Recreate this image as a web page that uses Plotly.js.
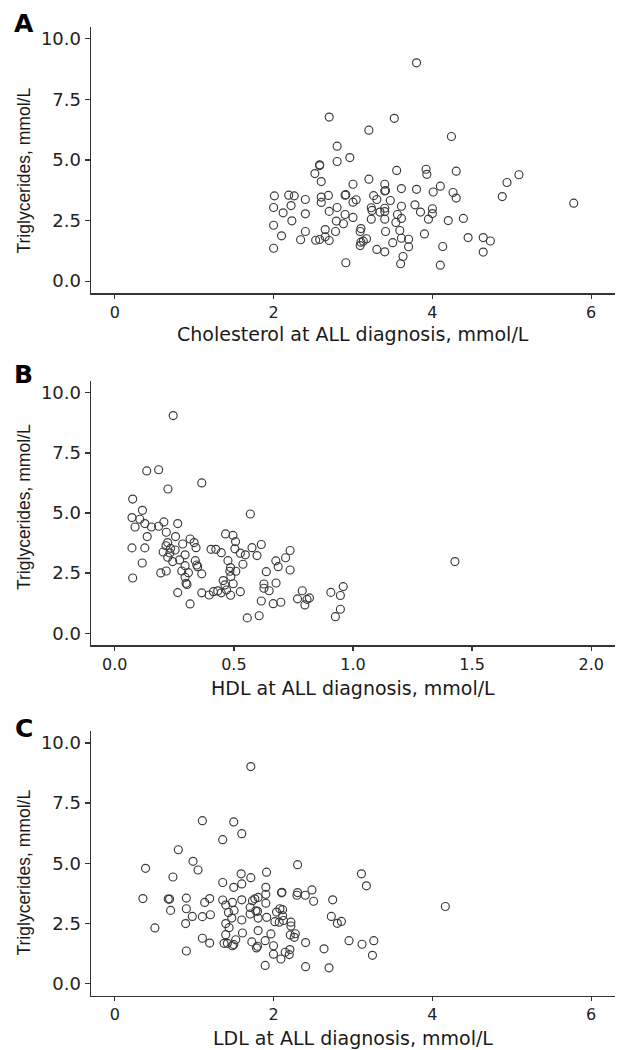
<!DOCTYPE html>
<html>
<head>
<meta charset="utf-8">
<script src="https://cdn.plot.ly/plotly-3.0.1.min.js"></script>
<style>
  html, body { margin: 0; padding: 0; background: #ffffff; }
  #chart { width: 619px; height: 1050px; }
</style>
</head>
<body>
<div id="chart"></div>
<script>
// ---------- Data ----------
// Panel A: Cholesterol at ALL diagnosis vs Triglycerides
const cholA = [2.01,2.19,2.26,2.00,2.12,2.22,2.00,2.23,2.10,2.00,
  2.34,2.40,2.40,2.40,2.52,2.58,2.58,2.60,2.60,2.60,2.69,2.70,2.70,2.65,2.53,2.58,2.65,2.70,
  2.80,2.80,2.80,2.79,2.78,2.88,2.90,2.91,2.90,2.91,2.96,3.00,3.00,3.04,3.00,3.10,3.09,3.10,
  3.09,3.13,3.17,3.20,3.20,3.23,3.24,3.23,3.26,3.30,3.30,3.40,3.40,3.41,3.40,3.40,3.40,3.34,
  3.41,3.40,3.47,3.50,3.52,3.55,3.56,3.54,3.59,3.61,3.61,3.61,3.61,3.70,3.70,3.63,3.60,3.80,
  3.80,3.78,3.85,3.90,3.92,3.93,4.01,4.10,4.00,4.00,3.95,4.13,4.10,4.20,4.24,4.26,4.30,4.30,
  4.39,4.45,4.64,4.73,4.64,4.88,4.94,5.09,5.78];
const tgA = [3.52,3.55,3.52,3.04,2.82,3.12,2.31,2.49,1.87,1.36,
  1.71,3.37,2.78,2.05,4.44,4.77,4.80,4.11,3.47,3.25,3.54,6.77,2.88,2.13,1.69,1.72,1.83,1.68,
  5.57,4.94,3.04,2.48,2.05,2.37,3.55,3.57,2.75,0.76,5.10,4.00,3.26,3.36,2.63,2.17,2.05,1.61,
  1.47,1.65,1.75,6.23,4.21,3.03,2.92,2.56,3.53,3.37,1.31,4.00,3.72,3.74,3.01,2.87,2.56,2.85,
  2.05,1.21,3.33,1.59,6.72,4.57,2.75,2.42,2.09,3.82,3.09,2.59,1.77,1.73,1.42,1.02,0.72,9.01,
  3.79,3.15,2.85,1.95,4.62,4.41,3.68,3.92,2.99,2.79,2.56,1.43,0.66,2.50,5.97,3.66,4.54,3.43,
  2.59,1.80,1.80,1.66,1.20,3.49,4.07,4.39,3.22];

// Panel B: HDL at ALL diagnosis vs Triglycerides
const hdlB = [0.245,0.134,0.184,0.223,0.365,0.075,0.116,0.072,0.105,0.085,0.126,0.154,0.184,0.206,
  0.264,0.216,0.136,0.072,0.126,0.115,0.075,0.255,0.222,0.215,0.234,0.253,0.203,0.231,0.222,0.243,
  0.193,0.216,0.264,0.285,0.295,0.316,0.333,0.341,0.272,0.295,0.281,0.309,0.295,0.299,0.303,0.316,
  0.338,0.344,0.348,0.365,0.365,0.404,0.424,0.447,0.396,0.414,0.432,0.447,0.455,0.462,0.469,0.465,
  0.496,0.507,0.504,0.475,0.486,0.483,0.508,0.487,0.497,0.486,0.527,0.548,0.538,0.527,0.556,
  0.569,0.576,0.615,0.597,0.606,0.636,0.626,0.626,0.648,0.615,0.665,0.697,0.676,0.686,0.677,
  0.717,0.736,0.736,0.787,0.767,0.798,0.807,0.817,0.907,0.947,0.959,0.947,0.926,1.428];
const tgB = [9.05,6.75,6.80,6.00,6.25,5.58,5.11,4.81,4.74,4.42,4.56,4.42,4.45,4.63,
  4.56,4.20,4.02,3.55,3.55,2.92,2.30,4.02,3.77,3.64,3.53,3.46,3.38,3.34,3.16,2.98,
  2.51,2.59,1.69,3.71,3.26,3.92,3.77,3.56,3.05,2.81,2.59,2.52,2.33,2.08,2.03,1.22,
  3.02,2.84,2.77,2.47,1.68,3.49,3.49,3.35,1.59,1.73,1.76,1.68,2.19,2.01,1.80,4.13,
  4.07,3.81,3.51,3.02,2.73,2.58,2.58,2.36,2.06,1.58,3.33,3.26,2.87,1.73,0.64,
  4.96,3.56,3.69,3.23,0.73,2.56,2.05,1.87,1.77,1.34,1.23,1.29,3.01,2.77,2.09,
  3.14,3.44,2.63,1.77,1.43,1.18,1.41,1.47,1.70,1.57,1.94,1.00,0.69,2.98];

// Panel C: LDL at ALL diagnosis vs Triglycerides
const ldlC = [0.387,0.354,0.505,0.732,0.800,0.673,0.690,0.703,0.901,0.901,0.892,0.901,0.985,1.048,
  0.976,1.103,1.103,1.132,1.195,1.204,1.103,1.195,1.359,1.498,1.599,1.359,1.498,1.599,1.591,1.359,
  1.397,1.481,1.431,1.503,1.473,1.397,1.439,1.397,1.599,1.599,1.608,1.376,1.418,1.481,1.523,1.498,
  1.713,1.713,1.911,2.302,1.902,1.902,1.902,1.734,1.763,1.805,1.705,1.776,1.797,1.705,1.805,1.913,
  1.805,1.966,1.894,1.726,1.797,1.785,1.999,1.999,2.092,1.894,2.100,2.105,2.079,2.113,2.037,2.113,
  2.016,2.071,2.125,2.218,2.218,2.210,2.273,2.260,2.205,2.146,2.197,2.302,2.294,2.399,2.483,2.504,
  2.403,2.403,2.635,2.698,2.744,2.727,2.803,2.854,2.950,3.106,3.169,3.114,3.262,3.245,4.163];
const tgC = [4.79,3.53,2.31,4.43,5.56,3.51,3.51,3.04,3.55,3.11,2.49,1.35,5.08,4.72,
  2.79,6.77,2.78,3.37,3.53,2.86,1.88,1.68,5.98,6.72,6.23,4.20,4.00,4.14,4.56,3.47,
  3.26,3.37,2.95,3.04,2.72,2.49,2.32,2.03,3.48,2.64,2.10,1.67,1.67,1.57,1.82,1.62,
  9.02,4.40,4.63,4.94,4.00,3.71,3.34,3.44,3.52,3.58,3.16,3.02,3.00,2.89,2.72,2.75,
  2.20,2.06,1.78,1.73,1.55,1.48,1.57,1.22,1.02,0.75,3.77,3.79,3.11,3.07,2.97,2.82,
  2.57,2.55,2.62,2.55,2.39,2.02,2.07,1.92,1.41,1.30,1.20,3.78,3.67,3.67,3.89,3.42,
  1.70,0.70,1.44,0.65,3.48,2.79,2.50,2.58,1.78,4.56,4.06,1.63,1.78,1.17,3.20];

// Text
const panelLabels = ['A', 'B', 'C'];
const xTitles = ['Cholesterol at ALL diagnosis, mmol/L', 'HDL at ALL diagnosis, mmol/L', 'LDL at ALL diagnosis, mmol/L'];
const yTitle = 'Triglycerides, mmol/L';

// ---------- Styling / layout ----------
const W = 619, H = 1050;
const px = v => v / W;           // page x pixel -> paper fraction
const py = v => 1 - v / H;       // page y pixel -> paper fraction

const markerStyle = { symbol: 'circle-open', size: 8, color: '#3a3a3a', line: { width: 1.15, color: '#3a3a3a' } };

function trace(x, y, n) {
  return { type: 'scatter', mode: 'markers', x: x, y: y,
    xaxis: n === 1 ? 'x' : 'x' + n, yaxis: n === 1 ? 'y' : 'y' + n,
    marker: markerStyle, hoverinfo: 'skip', showlegend: false };
}

const xTickFont = { family: 'DejaVu Sans', size: 16, color: '#222' };
const yTickFont = { family: 'DejaVu Sans', size: 18, color: '#222' };
function xAx(range, dtick, fmt, anchor) {
  return { domain: [px(91), px(615)], range: range, dtick: dtick, tick0: 0, tickformat: fmt,
    showline: true, linecolor: '#333', linewidth: 1.4, ticks: 'outside', ticklen: 4, tickwidth: 1.3,
    tickcolor: '#333', showgrid: false, zeroline: false, tickfont: xTickFont, anchor: anchor,
    fixedrange: true };
}
function yAx(domain, anchor) {
  return { domain: domain, range: [-0.5, 10.5], dtick: 2.5, tick0: 0, tickformat: '.1f',
    showline: true, linecolor: '#333', linewidth: 1.4, ticks: 'outside', ticklen: 5, tickwidth: 1.3,
    tickcolor: '#333', showgrid: false, zeroline: false, tickfont: yTickFont, anchor: anchor,
    fixedrange: true };
}

const yDomA = [py(293.3), py(26.7)];
const yDomB = [py(645.3), py(380.7)];
const yDomC = [py(995.5), py(731)];

const annotations = [];
const labelY = [23.5, 374, 728.5];
const xTitleY = [334, 687.5, 1037.5];
const yTitleY = [171, 507.5, 873];
for (let i = 0; i < 3; i++) {
  annotations.push({ xref: 'paper', yref: 'paper', x: px(23.5), y: py(labelY[i]), xanchor: 'center', yanchor: 'middle',
    text: '<b>' + panelLabels[i] + '</b>', showarrow: false, font: { family: 'DejaVu Sans', size: 25, color: '#000' } });
  annotations.push({ xref: 'paper', yref: 'paper', x: px(353), y: py(xTitleY[i]), xanchor: 'center', yanchor: 'middle',
    text: xTitles[i], showarrow: false, font: { family: 'DejaVu Sans', size: 19, color: '#1a1a1a' } });
  annotations.push({ xref: 'paper', yref: 'paper', x: px(23.5), y: py(yTitleY[i]), xanchor: 'center', yanchor: 'middle',
    text: yTitle, textangle: -90, showarrow: false, font: { family: 'Liberation Sans', size: 17.5, color: '#1a1a1a' } });
}

const layout = {
  width: W, height: H,
  margin: { l: 0, r: 0, t: 0, b: 0, pad: 0 },
  paper_bgcolor: '#ffffff', plot_bgcolor: '#ffffff',
  showlegend: false,
  xaxis: xAx([-0.3, 6.3], 2, 'd', 'y'),
  yaxis: yAx(yDomA, 'x'),
  xaxis2: xAx([-0.1, 2.1], 0.5, '.1f', 'y2'),
  yaxis2: yAx(yDomB, 'x2'),
  xaxis3: xAx([-0.3, 6.3], 2, 'd', 'y3'),
  yaxis3: yAx(yDomC, 'x3'),
  annotations: annotations
};

Plotly.newPlot('chart', [trace(cholA, tgA, 1), trace(hdlB, tgB, 2), trace(ldlC, tgC, 3)], layout,
  { displayModeBar: false, staticPlot: true });
</script>
</body>
</html>
